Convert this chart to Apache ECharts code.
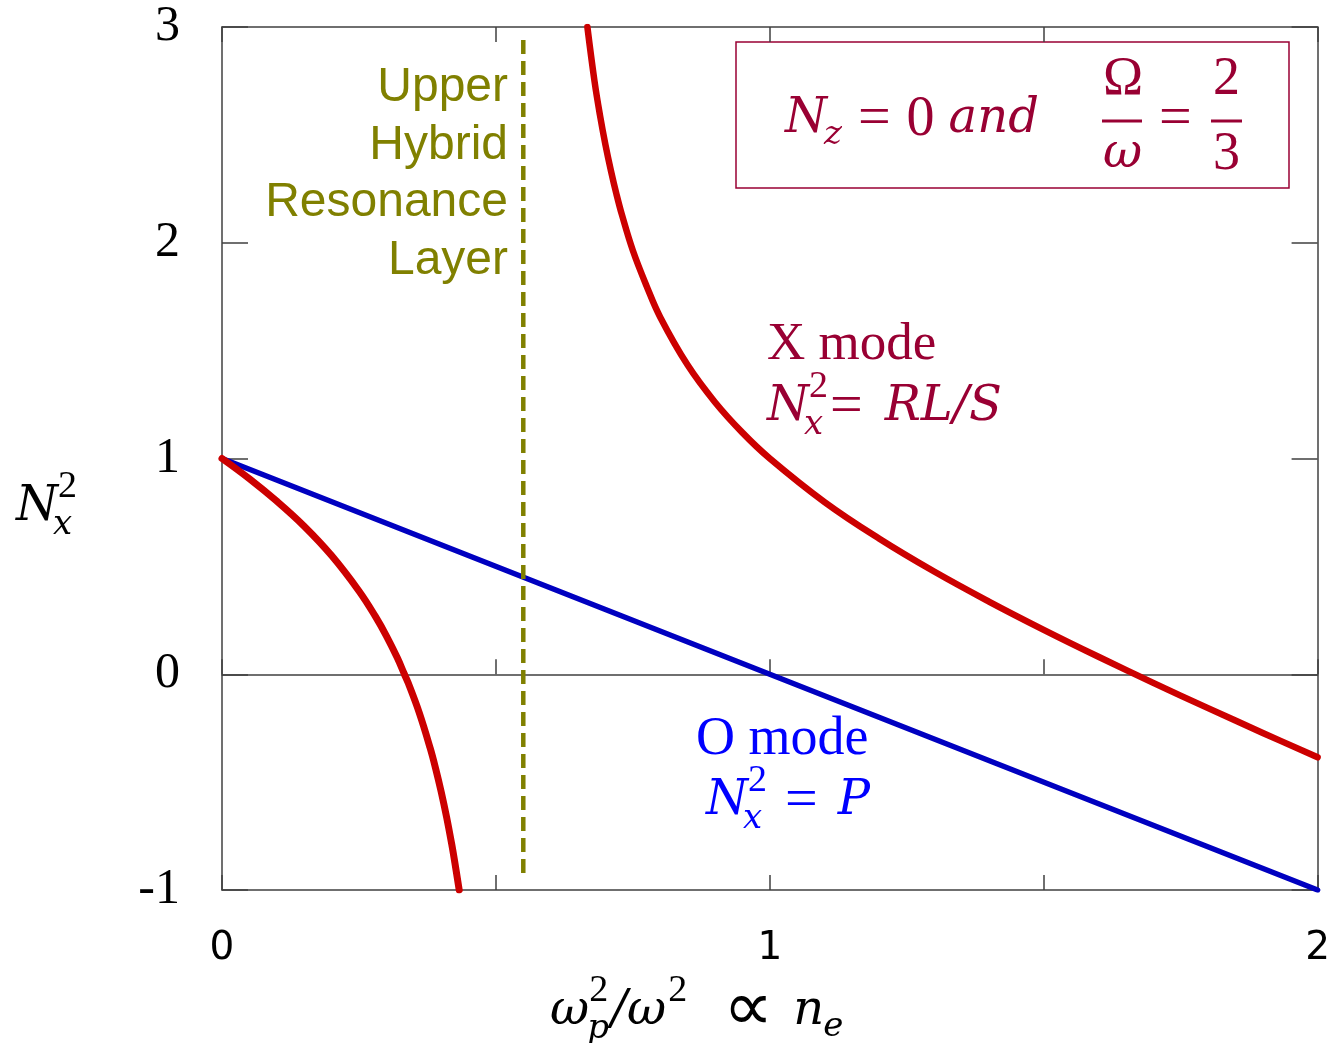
<!DOCTYPE html>
<html>
<head>
<meta charset="utf-8">
<script src="https://cdn.jsdelivr.net/npm/echarts@6/dist/echarts.min.js"></script>
<style>
html,body{margin:0;padding:0;background:#fff;}
#chart{width:1333px;height:1043px;}
</style>
</head>
<body>
<div id="chart"></div>
<script>
// ---- data ----
const xTickValues = [0, 1, 2];
const yTickLabels = ['-1', '0', '1', '2', '3'];

// X mode, lower branch (N_x^2 vs wp^2/w^2)
const xModeLower = [
  [0, 1], [0.05, 0.906], [0.1, 0.802], [0.15, 0.686], [0.2, 0.55],
  [0.25, 0.386], [0.28, 0.268], [0.3, 0.178], [0.32, 0.076], [0.333, 0.0],
  [0.34, -0.041], [0.36, -0.178], [0.38, -0.342], [0.39, -0.437],
  [0.4, -0.543], [0.41, -0.662], [0.42, -0.797], [0.425, -0.872], [0.433, -1.0]
];
// X mode, upper branch
const xModeUpper = [
  [0.667, 3.0], [0.68, 2.749], [0.69, 2.591], [0.7, 2.454], [0.71, 2.334], [0.72, 2.226],
  [0.73, 2.13], [0.75, 1.964], [0.775, 1.8], [0.8, 1.655], [0.85, 1.433], [0.9, 1.261],
  [0.95, 1.12], [1.0, 1.0], [1.1, 0.798], [1.2, 0.628], [1.3, 0.476],
  [1.4, 0.337], [1.5, 0.206], [1.6, 0.081], [1.7, -0.04], [1.8, -0.157],
  [1.9, -0.272], [2.0, -0.385]
];
// O mode: N_x^2 = P
const oMode = [[0, 1], [1, 0], [2, -1]];
// Upper hybrid resonance layer (dashed vertical)
const uhrLayer = [[0.55, 2.94], [0.55, -0.95]];

// ---- colours ----
const RED = '#cc0000', BLUE = '#0000c0', OLIVE = '#808000', CRIMSON = '#990033', TXTBLUE = '#0000ff';
const AXC = '#404040';

// ---- math-like text helper ----
const mctx = document.createElement('canvas').getContext('2d');
function mathText(x, y, pieces, color) {
  const els = [];
  let cx = x, prevStart = x;
  pieces.forEach(p => {
    const font = (p.i ? 'italic ' : '') + p.s + 'px "' + p.f + '"';
    mctx.font = font;
    const w = mctx.measureText(p.t).width;
    const px = p.stack ? prevStart + (p.dx || 0) : cx + (p.dx || 0);
    els.push({
      type: 'text', x: px, y: y + (p.dy || 0), silent: true,
      style: { text: p.t, font: font, fill: color, align: 'left', verticalAlign: 'middle',
               textAlign: 'left', textVerticalAlign: 'middle' }
    });
    cx = p.stack ? Math.max(cx, px + w) : px + w;
    prevStart = p.stack ? prevStart : px;
  });
  return els;
}
const SER = 'Liberation Serif', MI = 'DejaVu Serif';

const graphics = [];
// parameter box
graphics.push({ type: 'rect', shape: { x: 736, y: 42, width: 553, height: 146 }, silent: true,
  style: { fill: 'none', stroke: CRIMSON, lineWidth: 1.5 } });
graphics.push(...mathText(785, 120, [
  { t: 'N', f: MI, s: 48, i: true },
  { t: 'z', f: MI, s: 34, i: true, dy: 15, dx: -3 },
  { t: '=', f: SER, s: 58, dx: 16 },
  { t: '0', f: SER, s: 56, dx: 16 },
  { t: 'and', f: MI, s: 48, i: true, dx: 14 }
], CRIMSON));
graphics.push(...mathText(1103, 80, [{ t: 'Ω', f: SER, s: 54 }], CRIMSON));
graphics.push(...mathText(1103, 155, [{ t: 'ω', f: MI, s: 48, i: true }], CRIMSON));
graphics.push({ type: 'line', silent: true, shape: { x1: 1102, y1: 121, x2: 1142, y2: 121 }, style: { stroke: CRIMSON, lineWidth: 3 } });
graphics.push(...mathText(1159, 120, [{ t: '=', f: SER, s: 58 }], CRIMSON));
graphics.push(...mathText(1213, 80, [{ t: '2', f: SER, s: 54 }], CRIMSON));
graphics.push(...mathText(1213, 155, [{ t: '3', f: SER, s: 54 }], CRIMSON));
graphics.push({ type: 'line', silent: true, shape: { x1: 1211, y1: 121, x2: 1242, y2: 121 }, style: { stroke: CRIMSON, lineWidth: 3 } });

// X mode label
graphics.push(...mathText(767, 345, [{ t: 'X mode', f: SER, s: 53 }], CRIMSON));
graphics.push(...mathText(767, 408, [
  { t: 'N', f: MI, s: 48, i: true },
  { t: '2', f: SER, s: 38, dy: -21, dx: 0 },
  { t: 'x', f: MI, s: 34, i: true, dy: 17, stack: true, dx: -5 },
  { t: '=', f: SER, s: 58, dx: 2 },
  { t: 'RL/S', f: MI, s: 48, i: true, dx: 22 }
], CRIMSON));

// O mode label
graphics.push(...mathText(696, 740, [{ t: 'O mode', f: SER, s: 54 }], TXTBLUE));
graphics.push(...mathText(706, 802, [
  { t: 'N', f: MI, s: 48, i: true },
  { t: '2', f: SER, s: 38, dy: -21 },
  { t: 'x', f: MI, s: 34, i: true, dy: 17, stack: true, dx: -5 },
  { t: '=', f: SER, s: 58, dx: 18 },
  { t: 'P', f: MI, s: 48, i: true, dx: 20 }
], TXTBLUE));

// Upper hybrid text
['Upper', 'Hybrid', 'Resonance', 'Layer'].forEach((t, k) => {
  graphics.push({ type: 'text', x: 508, y: 88 + k * 57.5, silent: true,
    style: { text: t, font: '48px "Liberation Sans"', fill: OLIVE, align: 'right', verticalAlign: 'middle',
             textAlign: 'right', textVerticalAlign: 'middle' } });
});

// Y axis title
graphics.push(...mathText(16, 508, [
  { t: 'N', f: MI, s: 48, i: true },
  { t: '2', f: SER, s: 38, dy: -21 },
  { t: 'x', f: MI, s: 34, i: true, dy: 17, stack: true, dx: -5 }
], '#000'));
// X axis title
graphics.push(...mathText(550, 1012, [
  { t: 'ω', f: MI, s: 48, i: true },
  { t: '2', f: SER, s: 38, dy: -21 },
  { t: 'p', f: MI, s: 34, i: true, dy: 17, stack: true, dx: -2 },
  { t: '/ω', f: MI, s: 48, i: true, dx: 2 },
  { t: '2', f: SER, s: 38, dy: -21, dx: 2 },
  { t: '∝', f: 'DejaVu Sans', s: 70, dx: 36, dy: 0 },
  { t: 'n', f: MI, s: 48, i: true, dx: 20 },
  { t: 'e', f: MI, s: 34, i: true, dy: 15, dx: -1 }
], '#000'));

const chart = echarts.init(document.getElementById('chart'), null, { renderer: 'canvas' });
const axisLine = { show: true, onZero: false, lineStyle: { color: AXC, width: 1.5 } };
const option = {
  animation: false,
  backgroundColor: '#fff',
  grid: { left: 222, right: 11, top: 27, bottom: 153, containLabel: false },
  xAxis: [
    { type: 'value', position: 'bottom', min: 0, max: 2, interval: 0.5,
      axisLine: axisLine, splitLine: { show: false },
      axisTick: { show: true, inside: true, length: 15, lineStyle: { color: AXC, width: 1.5 } },
      axisLabel: { show: true, margin: 39, color: '#000', fontFamily: 'DejaVu Sans', fontSize: 39,
        formatter: v => (xTickValues.indexOf(v) >= 0 ? String(v) : '') } },
    { type: 'value', position: 'top', min: 0, max: 2, interval: 0.5,
      axisLine: axisLine, splitLine: { show: false },
      axisTick: { show: true, inside: true, length: 15, lineStyle: { color: AXC, width: 1.5 } },
      axisLabel: { show: false } },
    { type: 'value', position: 'bottom', min: 0, max: 2, interval: 0.5,
      axisLine: { show: true, onZero: true, onZeroAxisIndex: 0, lineStyle: { color: AXC, width: 1.5 } },
      splitLine: { show: false },
      axisTick: { show: true, inside: true, length: 15, lineStyle: { color: AXC, width: 1.5 } },
      axisLabel: { show: false } }
  ],
  yAxis: [
    { type: 'value', position: 'left', min: -1, max: 3, interval: 1,
      axisLine: axisLine, splitLine: { show: false },
      axisTick: { show: true, inside: true, length: 26, lineStyle: { color: AXC, width: 1.5 } },
      axisLabel: { show: true, margin: 42, color: '#000', fontFamily: 'Liberation Serif', fontSize: 50,
        formatter: v => yTickLabels[Math.round(v) + 1] } },
    { type: 'value', position: 'right', min: -1, max: 3, interval: 1,
      axisLine: axisLine, splitLine: { show: false },
      axisTick: { show: true, inside: true, length: 26, lineStyle: { color: AXC, width: 1.5 } },
      axisLabel: { show: false } }
  ],
  series: [
    { name: 'O mode', type: 'line', data: oMode, showSymbol: false, symbol: 'none',
      xAxisIndex: 0, yAxisIndex: 0,
      lineStyle: { color: BLUE, width: 5.5, cap: 'round' } },
    { name: 'UHR', type: 'line', data: uhrLayer, showSymbol: false, symbol: 'none',
      xAxisIndex: 0, yAxisIndex: 0,
      lineStyle: { color: OLIVE, width: 4.5, type: [14, 7] } },
    { name: 'X mode lower', type: 'line', data: xModeLower, showSymbol: false, symbol: 'none',
      xAxisIndex: 0, yAxisIndex: 0, smooth: 0.4,
      lineStyle: { color: RED, width: 7, cap: 'round', join: 'round' } },
    { name: 'X mode upper', type: 'line', data: xModeUpper, showSymbol: false, symbol: 'none',
      xAxisIndex: 0, yAxisIndex: 0, smooth: 0.4,
      lineStyle: { color: RED, width: 6.5, cap: 'round', join: 'round' } }
  ],
  graphic: { elements: graphics }
};
chart.setOption(option);
</script>
</body>
</html>
